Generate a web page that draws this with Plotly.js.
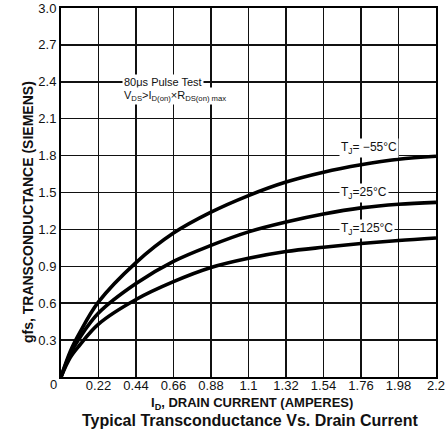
<!DOCTYPE html>
<html>
<head>
<meta charset="utf-8">
<script src="https://cdn.plot.ly/plotly-3.0.1.min.js"></script>
<style>html,body{margin:0;padding:0;background:#fff;}#chart{width:445px;height:432px;}</style>
</head>
<body>
<div id="chart"></div>
<script>
// Drain current (A)
const drainCurrent = [0, 0.055, 0.11, 0.22, 0.44, 0.66, 0.88, 1.1, 1.32, 1.54, 1.76, 1.98, 2.2];
// Transconductance (S) per junction temperature
const gfsMinus55 = [0, 0.21, 0.36, 0.61, 0.93, 1.17, 1.34, 1.475, 1.585, 1.665, 1.725, 1.77, 1.795];
const gfs25      = [0, 0.19, 0.32, 0.52, 0.76, 0.94, 1.07, 1.18, 1.26, 1.325, 1.375, 1.405, 1.42];
const gfs125     = [0, 0.16, 0.26, 0.43, 0.63, 0.775, 0.89, 0.965, 1.02, 1.055, 1.085, 1.11, 1.13];
const seriesNames = ["T_J=-55°C", "T_J=25°C", "T_J=125°C"];

const xTickVals = [0, 0.22, 0.44, 0.66, 0.88, 1.1, 1.32, 1.54, 1.76, 1.98, 2.2];
const xTickText = ["", "0.22", "0.44", "0.66", "0.88", "1.1", "1.32", "1.54", "1.76", "1.98", "2.2"];
const yTickVals = [0, 0.3, 0.6, 0.9, 1.2, 1.5, 1.8, 2.1, 2.4, 2.7, 3.0];
const yTickText = ["", "0.3", "0.6", "0.9", "1.2", "1.5", "1.8", "2.1", "2.4", "2.7", "3.0"];

const FONT = "Liberation Sans, Arial, Helvetica, sans-serif";

const allSeries = [gfsMinus55, gfs25, gfs125];
const traces = allSeries.map((ys, i) => ({
  x: drainCurrent, y: ys, name: seriesNames[i], type: "scatter", mode: "lines",
  line: {color: "#000", width: 3.6, shape: "spline", smoothing: 1.0},
  hoverinfo: "skip"
}));

const axisCommon = {
  showgrid: true, gridcolor: "#111", gridwidth: 1.5,
  showline: true, linecolor: "#000", linewidth: 2, mirror: true,
  zeroline: false, ticks: "", ticklen: 0, tickmode: "array",
  ticklabeloverflow: "allow",
  tickfont: {family: FONT, size: 13, color: "#111"}
};

const layout = {
  width: 445, height: 432,
  margin: {l: 61, r: 9, t: 8, b: 55},
  paper_bgcolor: "#fff", plot_bgcolor: "#fff",
  showlegend: false,
  xaxis: Object.assign({}, axisCommon, {range: [0, 2.2], tickvals: xTickVals, ticktext: xTickText, ticklabelstandoff: -5}),
  yaxis: Object.assign({}, axisCommon, {range: [0, 3.0], tickvals: yTickVals, ticktext: yTickText}),
  annotations: [
    {xref: "x", yref: "y", x: 0, y: 0, text: "0", showarrow: false, xshift: -8, yshift: -7,
     font: {family: FONT, size: 13, color: "#111"}},
    {xref: "paper", yref: "paper", x: 0, y: 0.447, xshift: -43, text: "gfs, TRANSCONDUCTANCE (SIEMENS)",
     textangle: -90, showarrow: false, font: {family: FONT, size: 14, color: "#111", weight: "bold"}},
    {xref: "paper", yref: "paper", x: 0.509, y: 0, yshift: -26, yanchor: "middle",
     text: "I<sub>D</sub>, DRAIN CURRENT (AMPERES)", showarrow: false,
     font: {family: FONT, size: 13, color: "#111", weight: "bold"}},
    {xref: "paper", yref: "paper", x: 0.503, y: 0, yshift: -43, yanchor: "middle",
     text: "Typical Transconductance Vs. Drain Current", showarrow: false,
     font: {family: FONT, size: 16, color: "#111", weight: "bold"}},
    {xref: "x", yref: "y", x: 0.355, y: 2.4, xanchor: "left", yanchor: "middle",
     text: "80μs Pulse Test", showarrow: false, bgcolor: "#fff", borderpad: 1,
     font: {family: FONT, size: 11, color: "#111"}},
    {xref: "x", yref: "y", x: 0.355, y: 2.285, xanchor: "left", yanchor: "middle",
     text: "V<sub>DS</sub>>I<sub>D(on)</sub>×R<sub>DS(on) max</sub>", showarrow: false, bgcolor: "#fff", borderpad: 1,
     font: {family: FONT, size: 11, color: "#111"}},
    {xref: "x", yref: "y", x: 1.63, y: 1.865, xanchor: "left", yanchor: "middle",
     text: "T<sub>J</sub>= −55°C", showarrow: false, bgcolor: "#fff", borderpad: 1,
     font: {family: FONT, size: 12, color: "#111"}},
    {xref: "x", yref: "y", x: 1.63, y: 1.5, xanchor: "left", yanchor: "middle",
     text: "T<sub>J</sub>=25°C", showarrow: false, bgcolor: "#fff", borderpad: 1,
     font: {family: FONT, size: 12, color: "#111"}},
    {xref: "x", yref: "y", x: 1.63, y: 1.2, xanchor: "left", yanchor: "middle",
     text: "T<sub>J</sub>=125°C", showarrow: false, bgcolor: "#fff", borderpad: 1,
     font: {family: FONT, size: 12, color: "#111"}}
  ]
};

Plotly.newPlot("chart", traces, layout, {staticPlot: true, displayModeBar: false});
</script>
</body>
</html>
